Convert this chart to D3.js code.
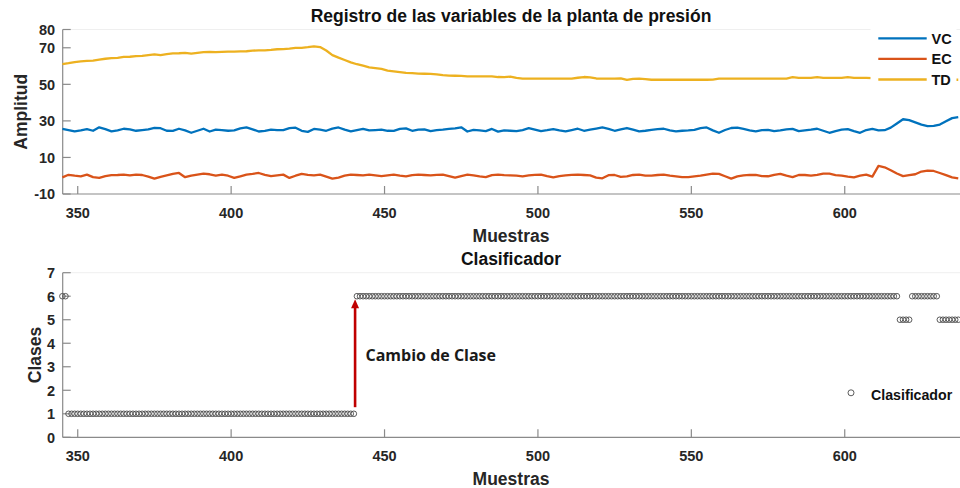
<!DOCTYPE html>
<html>
<head>
<meta charset="utf-8">
<script src="https://cdn.jsdelivr.net/npm/d3@7/dist/d3.min.js"></script>
<style>
  html, body { margin: 0; padding: 0; background: #fff; }
  svg { display: block; font-family: "Liberation Sans", Arial, sans-serif; }
</style>
</head>
<body>
<svg id="chart" width="960" height="488"></svg>
<script>
// Sample indices (every second sample of the record)
const muestras = d3.range(345, 638, 2);

// VC: control variable
const vc = [
  25.6, 25.0, 24.3, 24.8, 25.5, 24.6, 26.5, 25.5, 24.3, 24.8,
  25.7, 25.3, 24.6, 25.0, 25.3, 26.2, 26.0, 24.6, 24.5, 25.7,
  24.8, 23.5, 24.6, 25.7, 24.2, 25.2, 25.0, 24.6, 24.8, 25.9,
  26.4, 25.4, 24.2, 24.5, 25.2, 25.0, 24.9, 26.0, 26.3, 24.6,
  24.0, 25.6, 25.2, 24.6, 25.8, 26.4, 25.2, 24.3, 25.0, 25.6,
  24.8, 25.0, 25.2, 24.6, 24.5, 25.6, 25.9, 24.6, 25.2, 25.4,
  24.4, 24.9, 25.2, 25.6, 25.9, 26.5, 24.2, 25.1, 24.8, 24.4,
  25.6, 24.1, 24.8, 24.6, 24.4, 25.0, 26.0, 25.2, 24.4, 24.9,
  25.5, 24.8, 24.3, 25.0, 25.7, 24.6, 25.2, 25.8, 26.4, 25.6,
  24.6, 25.4, 26.1, 25.2, 24.3, 24.6, 25.1, 25.5, 25.7, 24.8,
  24.3, 24.6, 24.8, 25.1, 26.0, 26.4, 24.8, 23.5, 25.0, 26.1,
  26.3, 25.6, 24.8, 24.3, 24.9, 25.1, 24.4, 24.8, 25.3, 25.6,
  24.4, 24.8, 25.2, 25.7, 24.6, 23.5, 24.4, 25.2, 25.5, 24.4,
  23.5, 25.0, 25.6, 24.8, 24.9, 26.3, 28.6, 30.9, 30.4, 29.2,
  28.0, 27.1, 27.3, 28.0, 29.8, 31.5, 32.0
];

// EC: error signal
const ec = [
  -0.9, 0.5, 0.0, -0.3, 0.6, -0.8, -1.2, -0.2, 0.3, 0.4,
  0.6, 0.2, 0.6, 0.4, -0.5, -1.6, -0.6, 0.2, 1.0, 1.5,
  -0.8, 0.0, 0.6, 1.2, 0.8, 0.1, 0.6, 0.0, -1.2, -0.3,
  0.6, 1.0, 1.5, 0.5, -0.2, 0.2, 0.6, -1.2, 0.0, 1.0,
  0.5, 0.2, 0.6, -0.5, -1.6, -1.0, 0.0, 0.6, 0.4, 0.2,
  0.6, 0.2, -0.2, 0.2, 0.6, 0.0, -0.3, 0.3, 0.6, 0.4,
  0.2, 0.5, 0.6, -0.2, -1.0, -0.2, 0.6, 0.2, -0.4, -0.8,
  0.3, 0.6, 0.3, 0.2, 0.0, -0.3, 0.2, 0.5, 0.6, -0.2,
  -0.9, -0.2, 0.2, 0.5, 0.6, 0.4, 0.2, -1.0, -1.4, 0.3,
  0.4, -0.6, -0.4, 0.4, 0.6, 0.1, 0.0, 0.4, 0.6, 0.0,
  -0.3, -0.8, -0.8, -0.3, 0.0, 0.6, 1.2, 1.0, -0.3, -1.6,
  -0.4, 0.2, 0.5, 0.4, -0.2, -0.3, 0.5, 1.0, 0.0, -0.8,
  0.4, 0.4, 0.0, 0.5, 1.2, 1.1, 0.3, 0.0, -0.5, -0.9,
  0.0, 0.6, -0.5, 5.4, 4.6, 3.0, 1.2, -0.2, 0.3, 0.8,
  2.3, 2.8, 2.6, 1.5, 0.3, -0.9, -1.4
];

// TD: transmitter reading
const td = [
  61.1, 61.6, 62.2, 62.6, 62.8, 63.0, 63.5, 64.0, 64.3, 64.5,
  65.0, 65.1, 65.4, 65.6, 66.0, 66.4, 66.0, 66.5, 66.9, 67.0,
  67.2, 66.8, 67.2, 67.6, 67.8, 67.6, 67.8, 67.9, 67.9, 68.0,
  68.1, 68.4, 68.6, 68.6, 68.8, 69.2, 69.3, 69.5, 69.9, 70.0,
  70.3, 70.8, 70.4, 68.5, 66.0, 64.6, 63.3, 62.0, 61.0, 60.2,
  59.3, 58.9, 58.4, 57.5, 57.1, 56.7, 56.3, 56.1, 55.9, 55.8,
  55.7, 55.5, 55.0, 54.8, 54.7, 54.6, 54.4, 54.4, 54.4, 54.4,
  54.3, 54.0, 53.9, 54.2, 53.5, 53.1, 53.1, 53.1, 53.1, 53.1,
  53.1, 53.1, 53.1, 53.1, 53.6, 54.0, 53.8, 53.2, 53.1, 53.1,
  53.1, 53.2, 52.4, 53.0, 53.1, 52.8, 52.5, 52.5, 52.5, 52.5,
  52.5, 52.5, 52.5, 52.5, 52.5, 52.5, 52.6, 53.1, 53.1, 53.1,
  53.1, 53.1, 53.1, 53.1, 53.1, 53.1, 53.1, 53.1, 53.1, 53.9,
  53.5, 53.5, 53.5, 53.9, 53.5, 53.5, 53.5, 53.5, 53.9, 53.5,
  53.5, 53.5, 53.4, 53.3, 53.2, 53.0, 53.0, 52.8, 52.8, 52.7,
  52.7, 52.6, 52.6, 52.5, 52.5, 52.5, 52.5
];

// Classifier output, as runs of consecutive samples with the same class
const tramoInicio = [345, 347, 441, 618, 622, 631];
const tramoFin    = [346, 440, 617, 621, 630, 637];
const tramoClase  = [6, 1, 6, 5, 6, 5];

// Axis tick values and legend labels
const ticksX = [350, 400, 450, 500, 550, 600];
const ticksAmp = [-10, 10, 30, 50, 70, 80];
const ticksClase = [0, 1, 2, 3, 4, 5, 6, 7];
const nombresSerie = ["VC", "EC", "TD"];
const coloresSerie = ["#0072BD", "#D95319", "#EDB120"];

// Change-of-class marker (sample where the class jumps)
const muestraCambio = 440.4;

// ---------------------------------------------------------------
const svg = d3.select("#chart");
const textColor = "#262626";
const axisColor = "#8a8a8a";
const tickLen = 8;

const x = d3.scaleLinear().domain([345.1, 637.7]).range([62.7, 960.4]);
const yAmp = d3.scaleLinear().domain([-10, 80]).range([194, 29.5]);
const yCls = d3.scaleLinear().domain([0, 7]).range([437.3, 272.7]);

function drawAxes(yScale, yTicks, xLabelY, xTickLabelY) {
  const [y0, y1] = yScale.range();
  // very faint box top
  svg.append("line")
    .attr("x1", x.range()[0]).attr("x2", 960)
    .attr("y1", y1).attr("y2", y1)
    .attr("stroke", "#efefef").attr("stroke-width", 1);

  const gx = svg.append("g").attr("transform", `translate(0,${y0})`);
  gx.append("line").attr("x1", x.range()[0]).attr("x2", 960)
    .attr("stroke", axisColor).attr("stroke-width", 1.2);
  gx.selectAll("line.t").data(ticksX).join("line").attr("class", "t")
    .attr("x1", d => x(d)).attr("x2", d => x(d))
    .attr("y1", 0).attr("y2", -tickLen)
    .attr("stroke", axisColor).attr("stroke-width", 1.2);
  gx.selectAll("text").data(ticksX).join("text")
    .attr("x", d => x(d)).attr("y", xTickLabelY - y0)
    .attr("text-anchor", "middle")
    .attr("font-size", "14.5px").attr("font-weight", "bold")
    .attr("fill", textColor).text(d => d);

  const gy = svg.append("g").attr("transform", `translate(${x.range()[0]},0)`);
  gy.append("line").attr("y1", y0).attr("y2", y1)
    .attr("stroke", axisColor).attr("stroke-width", 1.2);
  gy.selectAll("line.t").data(yTicks).join("line").attr("class", "t")
    .attr("x1", 0).attr("x2", tickLen)
    .attr("y1", d => yScale(d)).attr("y2", d => yScale(d))
    .attr("stroke", axisColor).attr("stroke-width", 1.2);
  gy.selectAll("text").data(yTicks).join("text")
    .attr("x", -7.5).attr("y", d => yScale(d) + 5.3)
    .attr("text-anchor", "end")
    .attr("font-size", "14.5px").attr("font-weight", "bold")
    .attr("fill", textColor).text(d => d);

  svg.append("text")
    .attr("x", 511).attr("y", xLabelY)
    .attr("text-anchor", "middle")
    .attr("font-size", "17.5px").attr("font-weight", "bold")
    .attr("fill", textColor).text("Muestras");
}

// ---------- Top panel: plant variables ----------
drawAxes(yAmp, ticksAmp, 241.5, 218.3);

svg.append("text")
  .attr("x", 511).attr("y", 22)
  .attr("text-anchor", "middle")
  .attr("font-size", "17.5px").attr("font-weight", "bold")
  .attr("fill", "#111").text("Registro de las variables de la planta de presión");

svg.append("text")
  .attr("transform", `translate(26.5,${(yAmp.range()[0] + yAmp.range()[1]) / 2}) rotate(-90)`)
  .attr("text-anchor", "middle")
  .attr("font-size", "17.5px").attr("font-weight", "bold")
  .attr("fill", textColor).text("Amplitud");

const series = [vc, ec, td];
const linea = vals => d3.line()
  .x((d, i) => x(muestras[i]))
  .y(d => yAmp(d))
  .curve(d3.curveLinear)(vals);

// draw TD first, then EC, then VC on top
[2, 1, 0].forEach(k => {
  svg.append("path")
    .attr("d", linea(series[k]))
    .attr("fill", "none")
    .attr("stroke", coloresSerie[k])
    .attr("stroke-width", 2.3)
    .attr("stroke-linejoin", "round");
});

// Legend (white box over the plot area)
svg.append("rect")
  .attr("x", 870.5).attr("y", 22).attr("width", 86).attr("height", 70)
  .attr("fill", "#fff");
nombresSerie.forEach((n, i) => {
  const ly = 38.3 + i * 20.6;
  svg.append("line")
    .attr("x1", 878.3).attr("x2", 926.7).attr("y1", ly).attr("y2", ly)
    .attr("stroke", coloresSerie[i]).attr("stroke-width", 2.3);
  svg.append("text")
    .attr("x", 931.5).attr("y", ly + 5.3)
    .attr("font-size", "14.5px").attr("font-weight", "bold")
    .attr("fill", "#111").text(n);
});

// ---------- Bottom panel: classifier ----------
drawAxes(yCls, ticksClase, 484.5, 460.7);

svg.append("text")
  .attr("x", 511).attr("y", 265)
  .attr("text-anchor", "middle")
  .attr("font-size", "17.5px").attr("font-weight", "bold")
  .attr("fill", "#111").text("Clasificador");

svg.append("text")
  .attr("transform", `translate(40.5,${(yCls.range()[0] + yCls.range()[1]) / 2}) rotate(-90)`)
  .attr("text-anchor", "middle")
  .attr("font-size", "17.5px").attr("font-weight", "bold")
  .attr("fill", textColor).text("Clases");

const puntosClase = [];
tramoInicio.forEach((ini, j) => {
  d3.range(ini, tramoFin[j] + 1).forEach(m => puntosClase.push({ m, c: tramoClase[j] }));
});

svg.append("g").selectAll("circle").data(puntosClase).join("circle")
  .attr("cx", d => x(d.m)).attr("cy", d => yCls(d.c)).attr("r", 2.8)
  .attr("fill", "none").attr("stroke", "#4a4a4a").attr("stroke-width", 0.9);

// Arrow marking the change of class
const ax = x(muestraCambio);
const yTail = yCls(1.28), yTip = yCls(5.87);
svg.append("line")
  .attr("x1", ax).attr("x2", ax).attr("y1", yTail).attr("y2", yTip + 7)
  .attr("stroke", "#C00000").attr("stroke-width", 2.6);
svg.append("path")
  .attr("d", `M${ax},${yTip} L${ax - 4},${yTip + 9} L${ax + 4},${yTip + 9} Z`)
  .attr("fill", "#C00000");

svg.append("text")
  .attr("x", 365.5).attr("y", 360.5)
  .style("font-family", "'Open Sans', sans-serif")
  .attr("font-size", "16px").attr("font-weight", "bold")
  .attr("fill", "#1a1a1a").text("Cambio de Clase");

// Classifier legend
svg.append("circle")
  .attr("cx", 851).attr("cy", 392.8).attr("r", 3)
  .attr("fill", "none").attr("stroke", "#4a4a4a").attr("stroke-width", 0.9);
svg.append("text")
  .attr("x", 871).attr("y", 400)
  .attr("font-size", "14.2px").attr("font-weight", "bold")
  .attr("fill", "#111").text("Clasificador");

if (vc.length !== muestras.length || ec.length !== muestras.length || td.length !== muestras.length) {
  console.error("length mismatch", muestras.length, vc.length, ec.length, td.length);
}
</script>
</body>
</html>
